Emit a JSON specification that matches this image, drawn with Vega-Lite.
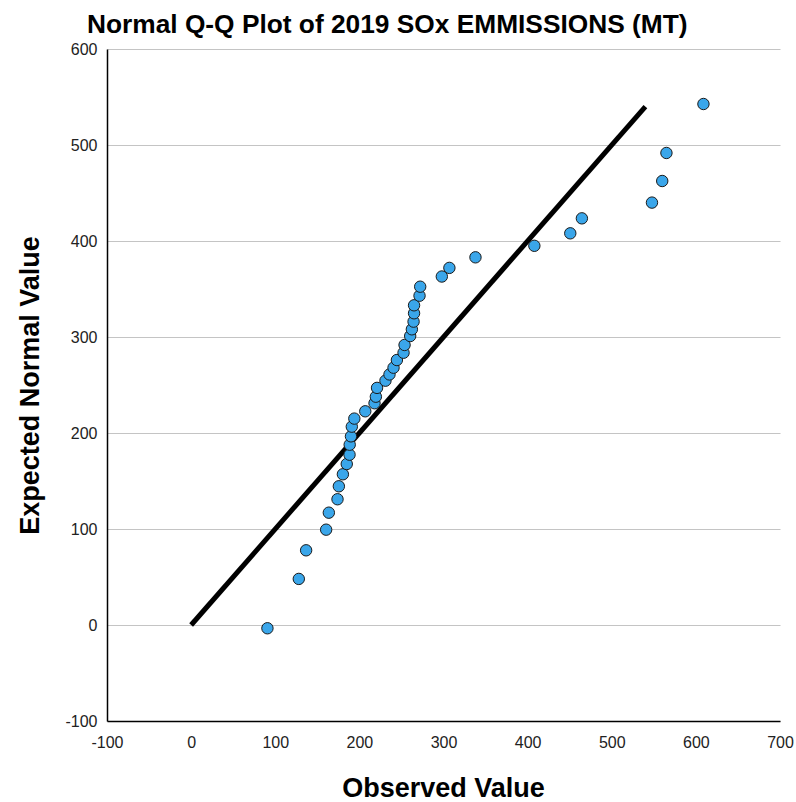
{
  "$schema": "https://vega.github.io/schema/vega-lite/v6.json",
  "width": 673,
  "height": 672,
  "autosize": {"type": "none"},
  "padding": {"left": 107, "top": 49, "right": 16, "bottom": 81},
  "background": "white",
  "title": {
    "text": "Normal Q-Q Plot of 2019 SOx EMMISSIONS (MT)",
    "font": "Liberation Sans",
    "fontSize": 26.3,
    "fontWeight": "bold",
    "color": "#000000",
    "anchor": "start",
    "frame": "group",
    "dx": -20,
    "offset": 3,
    "limit": 0
  },
  "config": {
    "view": {"stroke": null},
    "axis": {
      "labelFont": "Liberation Sans",
      "labelFontSize": 16,
      "labelColor": "#222222",
      "titleFont": "Liberation Sans",
      "titleFontSize": 27,
      "titleFontWeight": "bold",
      "titleColor": "#000000",
      "domainColor": "#000000",
      "domainWidth": 1.5,
      "ticks": false
    }
  },
  "datasets": {
    "points": [
      {"observed": 90.7, "expected": -3.4},
      {"observed": 128, "expected": 48},
      {"observed": 136.7, "expected": 77.8},
      {"observed": 160.5, "expected": 99.3},
      {"observed": 163.7, "expected": 117},
      {"observed": 174, "expected": 131},
      {"observed": 175.6, "expected": 144.5},
      {"observed": 180.4, "expected": 157},
      {"observed": 185, "expected": 167.7},
      {"observed": 188.3, "expected": 177.4},
      {"observed": 188.5, "expected": 187.8},
      {"observed": 190, "expected": 196.5},
      {"observed": 191, "expected": 206.6},
      {"observed": 194, "expected": 215},
      {"observed": 207, "expected": 222.6},
      {"observed": 218, "expected": 231},
      {"observed": 219.6, "expected": 237.8},
      {"observed": 221, "expected": 247},
      {"observed": 231, "expected": 254.5},
      {"observed": 235.8, "expected": 261},
      {"observed": 240.6, "expected": 268},
      {"observed": 244.6, "expected": 276},
      {"observed": 252.5, "expected": 283.6},
      {"observed": 253.7, "expected": 291.7},
      {"observed": 260.4, "expected": 301},
      {"observed": 262.4, "expected": 308},
      {"observed": 264.4, "expected": 316},
      {"observed": 265, "expected": 324.7},
      {"observed": 265, "expected": 333},
      {"observed": 271.5, "expected": 343},
      {"observed": 272.3, "expected": 352.4},
      {"observed": 298, "expected": 363},
      {"observed": 307, "expected": 372},
      {"observed": 338, "expected": 383},
      {"observed": 408, "expected": 395},
      {"observed": 450.7, "expected": 408},
      {"observed": 464.5, "expected": 423.6},
      {"observed": 547.8, "expected": 440},
      {"observed": 560, "expected": 462.5},
      {"observed": 565, "expected": 491.7},
      {"observed": 609, "expected": 542.7}
    ],
    "line": [
      {"observed": 0, "expected": 0},
      {"observed": 540, "expected": 540}
    ]
  },
  "layer": [
    {
      "data": {"name": "line"},
      "mark": {"type": "line", "color": "#000000", "strokeWidth": 5},
      "encoding": {
        "x": {
          "field": "observed",
          "type": "quantitative",
          "scale": {"domain": [-100, 700], "nice": false, "zero": false},
          "axis": {
            "title": "Observed Value",
            "grid": false,
            "values": [-100, 0, 100, 200, 300, 400, 500, 600, 700],
            "labelExpr": "'' + datum.value",
            "labelPadding": 13,
            "titleX": 336,
            "titleY": 67,
            "titleBaseline": "middle",
            "labelFlush": false
          }
        },
        "y": {
          "field": "expected",
          "type": "quantitative",
          "scale": {"domain": [-100, 600], "nice": false, "zero": false},
          "axis": {
            "title": "Expected Normal Value",
            "grid": true,
            "gridColor": "#c4c4c4",
            "gridWidth": 1.2,
            "values": [-100, 0, 100, 200, 300, 400, 500, 600],
            "labelExpr": "'' + datum.value",
            "labelPadding": 10,
            "titleX": -77,
            "titleY": 336,
            "titleAngle": -90,
            "titleBaseline": "middle",
            "titleAlign": "center",
            "labelFlush": false
          }
        }
      }
    },
    {
      "data": {"name": "points"},
      "mark": {"type": "point", "filled": true, "shape": "circle", "size": 130, "fill": "#3aa6ea", "stroke": "#1a1a1a", "strokeWidth": 1, "opacity": 1},
      "encoding": {
        "x": {"field": "observed", "type": "quantitative"},
        "y": {"field": "expected", "type": "quantitative"}
      }
    }
  ]
}
